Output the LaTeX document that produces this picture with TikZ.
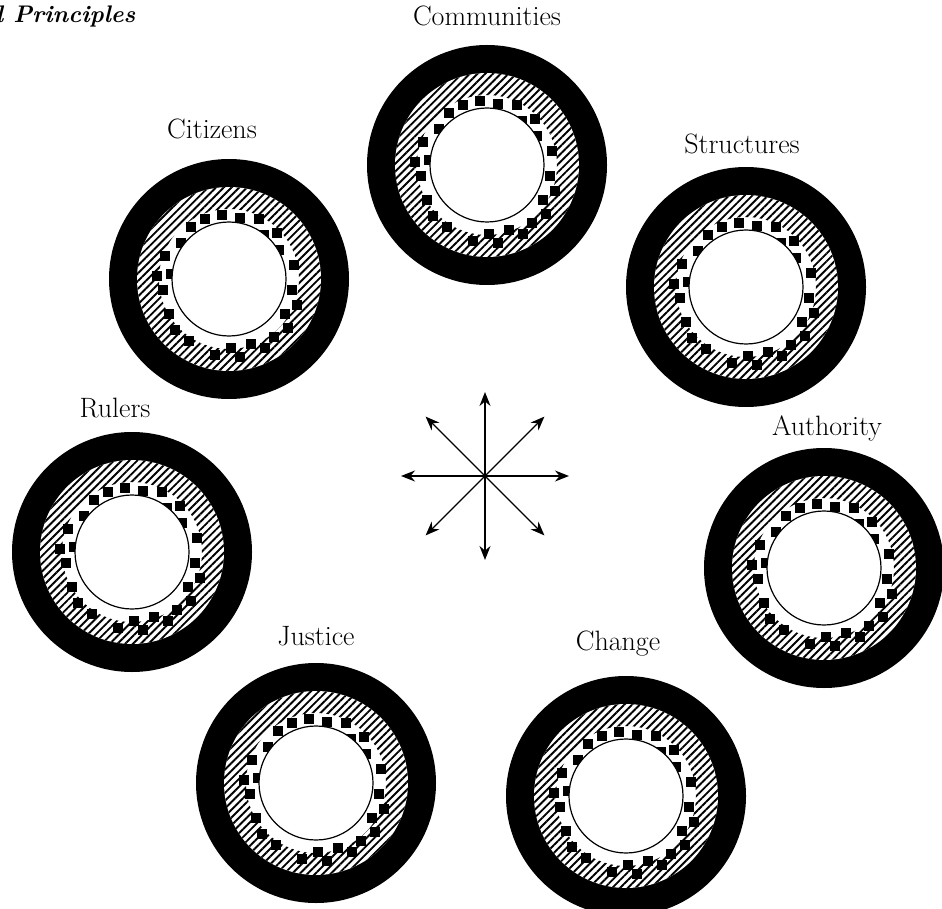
\documentclass[tikz,border=0pt]{standalone}
\usetikzlibrary{arrows.meta,patterns.meta}
\tikzset{
	lbl/.style={font=\fontsize{28}{33}\selectfont,inner sep=0pt,anchor=base},
	spoke/.style={line width=1.4pt,-{Stealth[length=14pt,width=11pt]}},
	band/.style={even odd rule,pattern={Lines[angle=45,distance=5.5pt,line width=1.9pt]}},
	dot/.style={fill=black},
}
% one ring: black rim, hatched band, squares, white core
\newcommand\ring[2]{%
	\fill[black] (#1,#2) circle (120pt);
	\fill[white] (#1,#2) circle (92pt);
	\fill[band] (#1,#2) circle (92pt) (#1,#2) circle (70pt);
	\foreach \dx/\dy in {-38/-52,-24/-60,-7/-64,11/-61,30/-60,48/-46,35/-44,50/-29,
		65/-14,63/11,68/26,56/35,59/49,45/58,36/69,22/65,11/78,2/69,-14/76,
		-40/62,-54/51,-60/35,-66/11,-72/-3,-58/-5,-64/-23,-48/-36}{
		\fill[dot] (#1+\dx,#2+\dy) ++(-5pt,-5pt) rectangle ++(10pt,10pt);
	}
	\filldraw[fill=white,draw=black,line width=1.2pt] (#1,#2) circle (57pt);
}

\begin{document}
\begin{tikzpicture}[x=1pt,y=-1pt]
	\useasboundingbox (0,0) rectangle (942,909);
	\node[font=\fontsize{24}{28}\selectfont\bfseries\itshape,inner sep=0pt,anchor=base west] (title) at (-4,23) {l Principles};
	% rings
	\foreach \x/\y in {487/165,229/279,132/552,316/783,626/796,824/568,746/287}{
		\ring{\x}{\y}
	}
	% labels
	\node[lbl] (communities) at (487,26) {Communities};
	\node[lbl] (citizens) at (212,139) {Citizens};
	\node[lbl] (rulers) at (115,417) {Rulers};
	\node[lbl] (justice) at (316,645) {Justice};
	\node[lbl] (change) at (618,650) {Change};
	\node[lbl] (authority) at (827,435) {Authority};
	\node[lbl] (structures) at (742,154) {Structures};
	% compass star
	\coordinate (hub) at (485,476);
	\foreach \a in {0,45,...,315}{
		\path (hub) ++(\a:84pt) coordinate (tip\a);
		\draw[spoke] (hub) -- (tip\a);
	}
\end{tikzpicture}
\end{document}
